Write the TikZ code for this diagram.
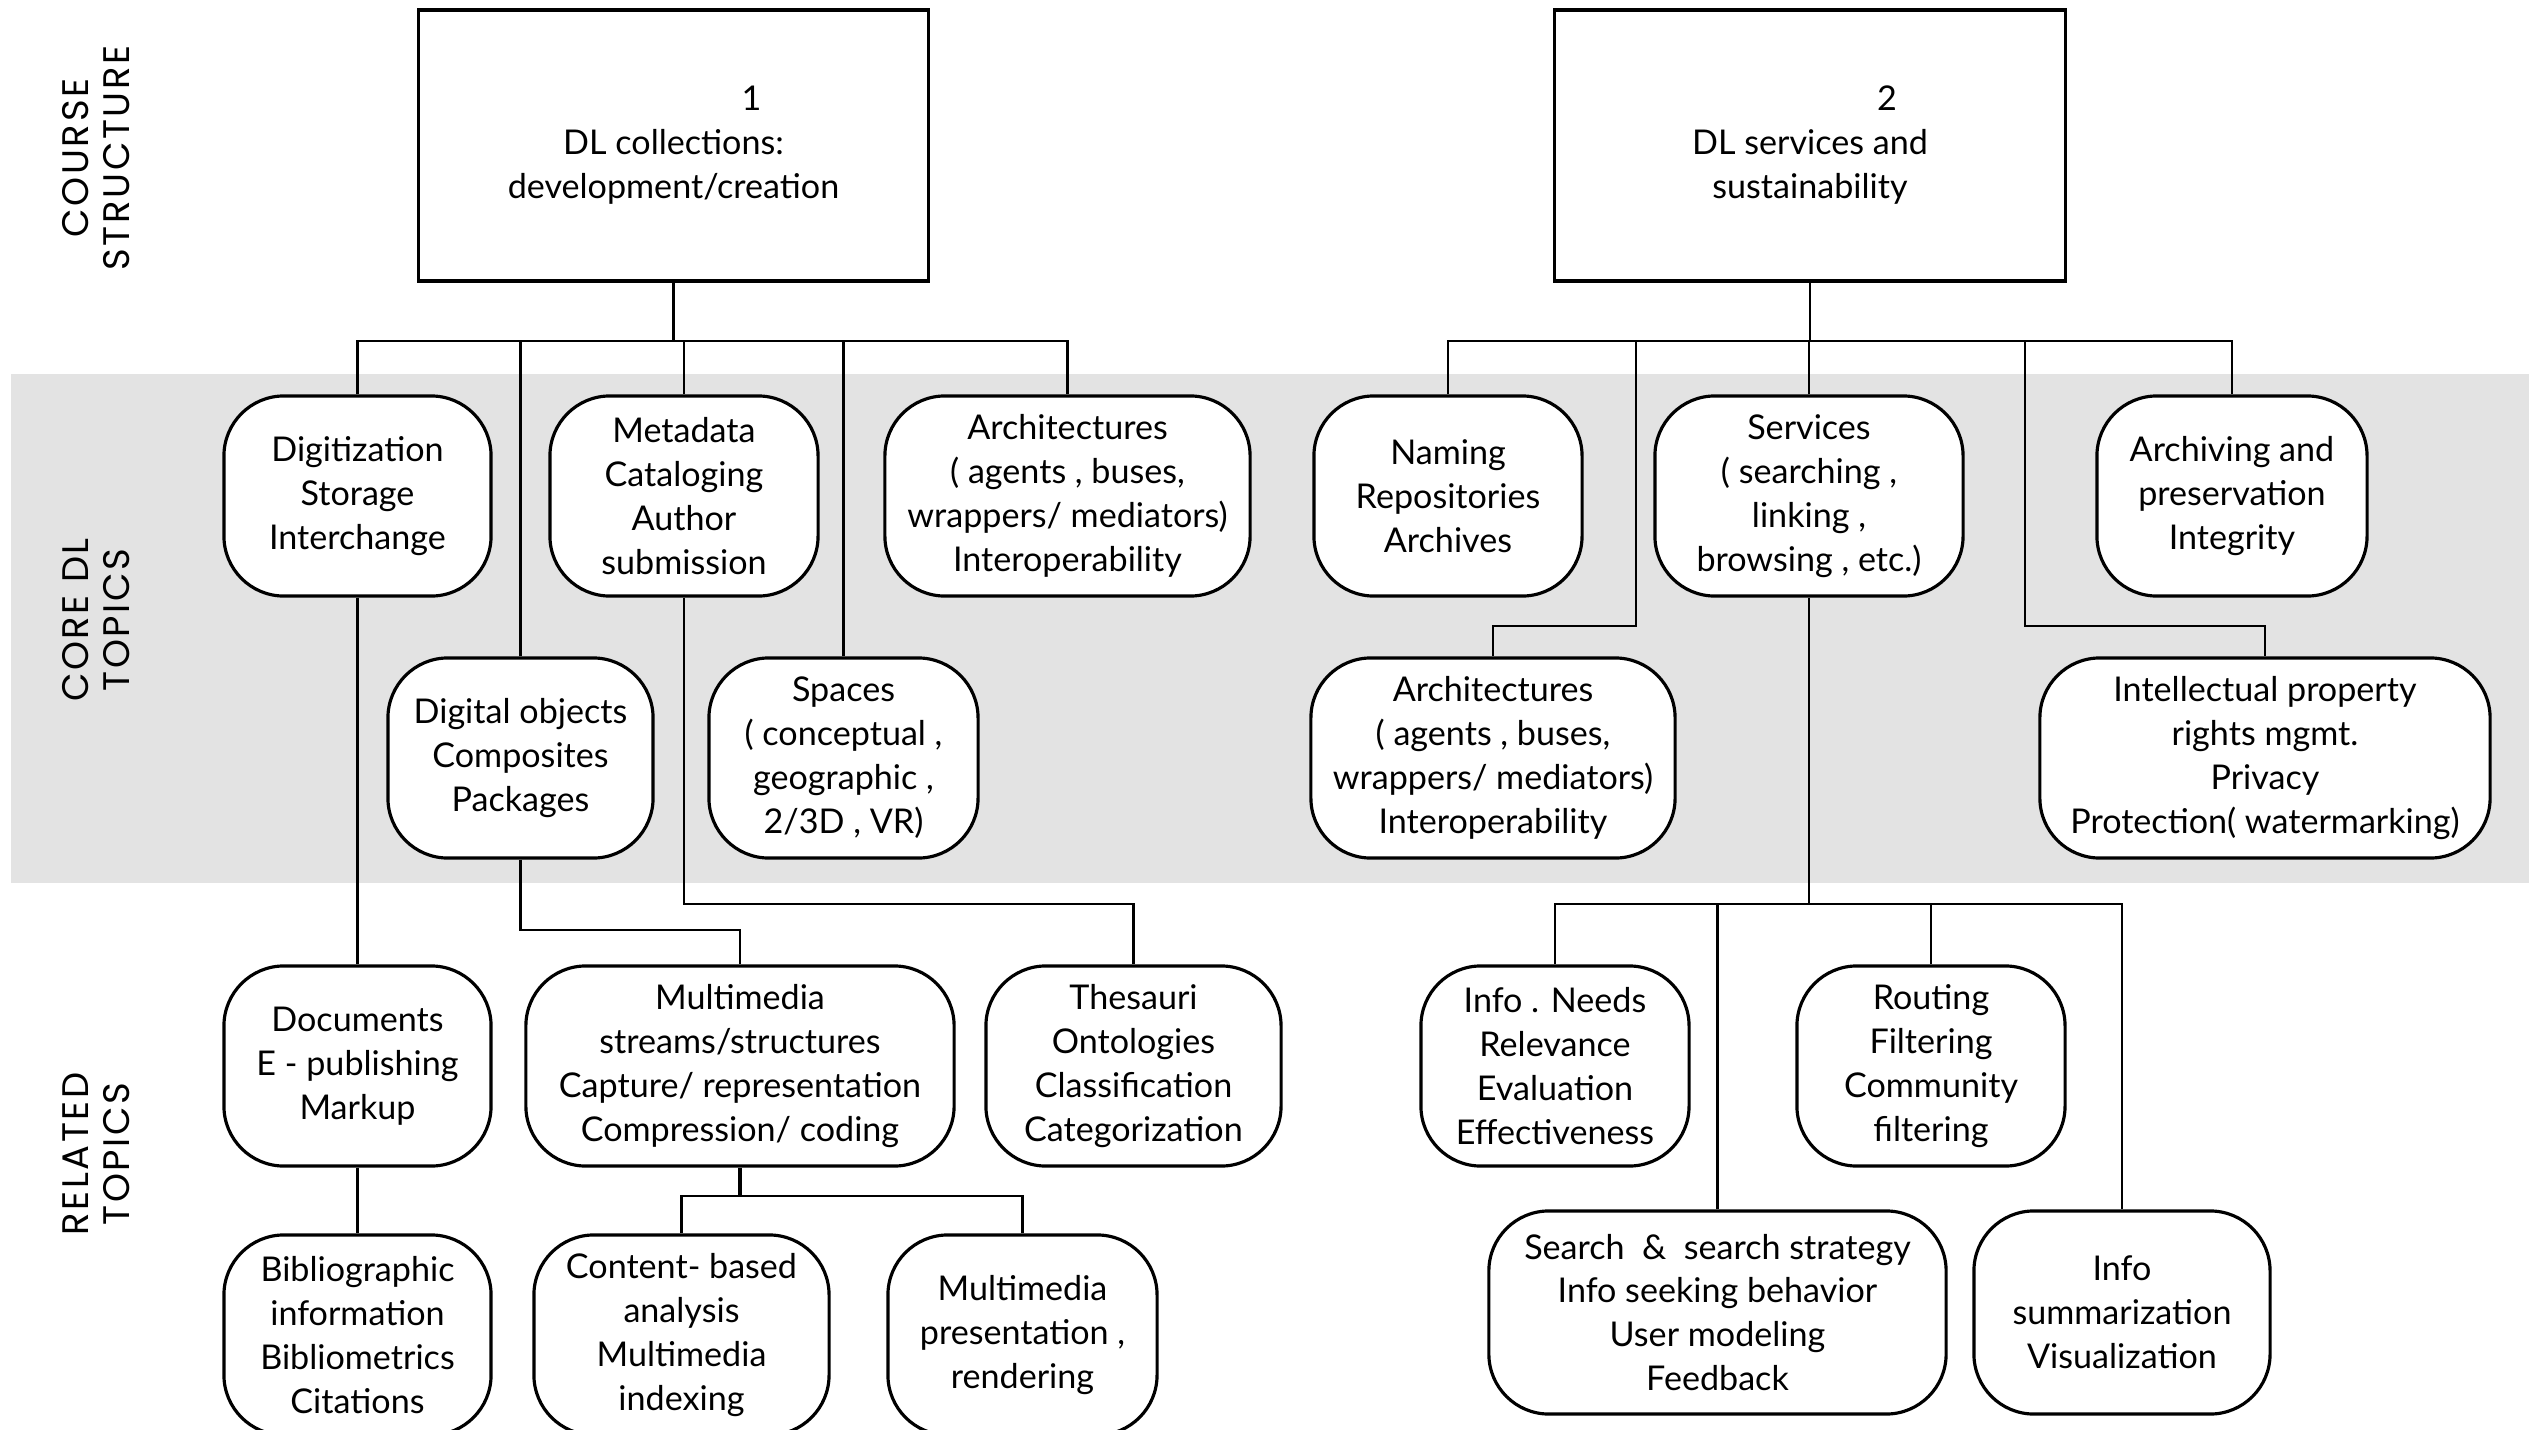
\documentclass[tikz,border=0pt]{standalone}
\usepackage{fontspec}
\setmainfont{Lato}
\newfontfamily\labelfont[LetterSpace=7]{Poppins}
\newcommand{\boxfont}{\fontsize{9.7}{12.5}\selectfont}
\tikzset{
  course box/.style={
    draw, fill=white, line width=0.9pt,
    minimum width=5.1cm, minimum height=2.71cm,
    align=center, font=\boxfont,
  },
  topic box/.style={
    draw, fill=white, line width=0.9pt, rounded corners=0.6cm,
    minimum width={#1cm}, minimum height=2cm,
    align=center, font=\boxfont,
  },
  side label/.style={
    rotate=90, align=center,
    font=\labelfont\fontsize{10.5}{11.6}\selectfont,
  },
  link/.style={line width=0.7pt},
  thick link/.style={line width=1.3pt},
}

\begin{document}
\begin{tikzpicture}[x=0.01cm, y=-0.01cm]
        \useasboundingbox (0,0) rectangle (2538,1430);
        \clip (0,0) rectangle (2538,1430);
        \fill [gray!22] (11,374) rectangle (2529,883);

        \node [side label] (lcourse) at (96,158) {COURSE\\STRUCTURE};
        \node [side label] (lcore) at (96,620) {CORE DL\\TOPICS};
        \node [side label] (lrel) at (96,1154) {RELATED\\TOPICS};

        \coordinate (bustop) at (0,341);
        \coordinate (busmid) at (0,626);
        \coordinate (busobj) at (0,930);
        \coordinate (busrel) at (0,904);
        \coordinate (busmm) at (0,1196);
        \coordinate (karch) at (1636,626);
        \coordinate (kprop) at (2025,626);

        \node [course box] (c1) at (673.5,145.5) {\hspace*{1.56cm}1\\DL collections:\\development/creation};
        \node [course box] (c2) at (1810,145.5) {\hspace*{1.54cm}2\\DL services and\\sustainability};

        \node [topic box=2.67] (digit) at (357.5,496) {Digitization\\Storage\\Interchange};
        \node [topic box=2.68] (meta) at (684,496) {Metadata\\Cataloging\\Author\\submission};
        \node [topic box=3.65] (archl) at (1067.5,496) {Architectures\\( agents , buses,\\wrappers/ mediators)\\Interoperability};
        \node [topic box=2.68] (naming) at (1448,496) {Naming\\Repositories\\Archives};
        \node [topic box=3.08] (serv) at (1809,496) {Services\\( searching ,\\linking ,\\browsing , etc.)};
        \node [topic box=2.70] (archiv) at (2232,496) {Archiving and\\preservation\\Integrity};

        \node [topic box=2.65] (digobj) at (520.5,758) {Digital objects\\Composites\\Packages};
        \node [topic box=2.69] (spaces) at (843.5,758) {Spaces\\( conceptual ,\\geographic ,\\2/3D , VR)};
        \node [topic box=3.64] (archr) at (1493,758) {Architectures\\( agents , buses,\\wrappers/ mediators)\\Interoperability};
        \node [topic box=4.50] (iprop) at (2265,758) {Intellectual property\\rights mgmt.\\Privacy\\Protection( watermarking)};

        \node [topic box=2.67] (docs) at (357.5,1066) {Documents\\E - publishing\\Markup};
        \node [topic box=4.28] (mmedia) at (740,1066) {Multimedia\\streams/structures\\Capture/ representation\\Compression/ coding};
        \node [topic box=2.95] (thes) at (1133.5,1066) {Thesauri\\Ontologies\\Classification\\Categorization};
        \node [topic box=2.68] (infon) at (1555,1066) {Info . Needs\\Relevance\\Evaluation\\Effectiveness};
        \node [topic box=2.68] (routing) at (1931,1066) {Routing\\Filtering\\Community\\filtering};

        \node [topic box=2.67] (biblio) at (357.5,1335) {Bibliographic\\information\\Bibliometrics\\Citations};
        \node [topic box=2.95] (content) at (681.5,1335) {Content- based\\analysis\\Multimedia\\indexing};
        \node [topic box=2.69] (mmpres) at (1022.5,1335) {Multimedia\\presentation ,\\rendering};
        \node [topic box=4.57, minimum height=2.03cm] (search) at (1717.5,1312.5) {Search \ \&\ \ search strategy\\Info seeking behavior\\User modeling\\Feedback};
        \node [topic box=2.96, minimum height=2.03cm] (infosum) at (2122,1312.5) {Info\\summarization\\Visualization};

        \draw [link] (c1.south) -- (c1.south |- bustop);
        \draw [link] (digit.north) |- (archl.north |- bustop) -- (archl.north);
        \draw [link] (digobj.north) -- (digobj.north |- bustop);
        \draw [link] (meta.north) -- (meta.north |- bustop);
        \draw [link] (spaces.north) -- (spaces.north |- bustop);

        \draw [link] (c2.south) -- (c2.south |- bustop);
        \draw [link] (naming.north) |- (archiv.north |- bustop) -- (archiv.north);
        \draw [link] (serv.north) -- (serv.north |- bustop);
        \draw [link] (karch |- bustop) -- (karch) -| (archr.north);
        \draw [link] (kprop |- bustop) -- (kprop) -| (iprop.north);

        \draw [link] (digit.south) -- (docs.north);
        \draw [link] (digobj.south) -- (digobj.south |- busobj) -| (mmedia.north);
        \draw [link] (meta.south) -- (meta.south |- busrel) -| (thes.north);
        \draw [link] (docs.south) -- (biblio.north);
        \draw [thick link] (mmedia.south) -- (mmedia.south |- busmm);
        \draw [link] (content.north) |- (mmpres.north |- busmm) -- (mmpres.north);

        \draw [link] (serv.south) -- (serv.south |- busrel);
        \draw [link] (infon.north) |- (infosum.north |- busrel) -- (infosum.north);
        \draw [link] (search.north) -- (search.north |- busrel);
        \draw [link] (routing.north) -- (routing.north |- busrel);
\end{tikzpicture}
\end{document}
